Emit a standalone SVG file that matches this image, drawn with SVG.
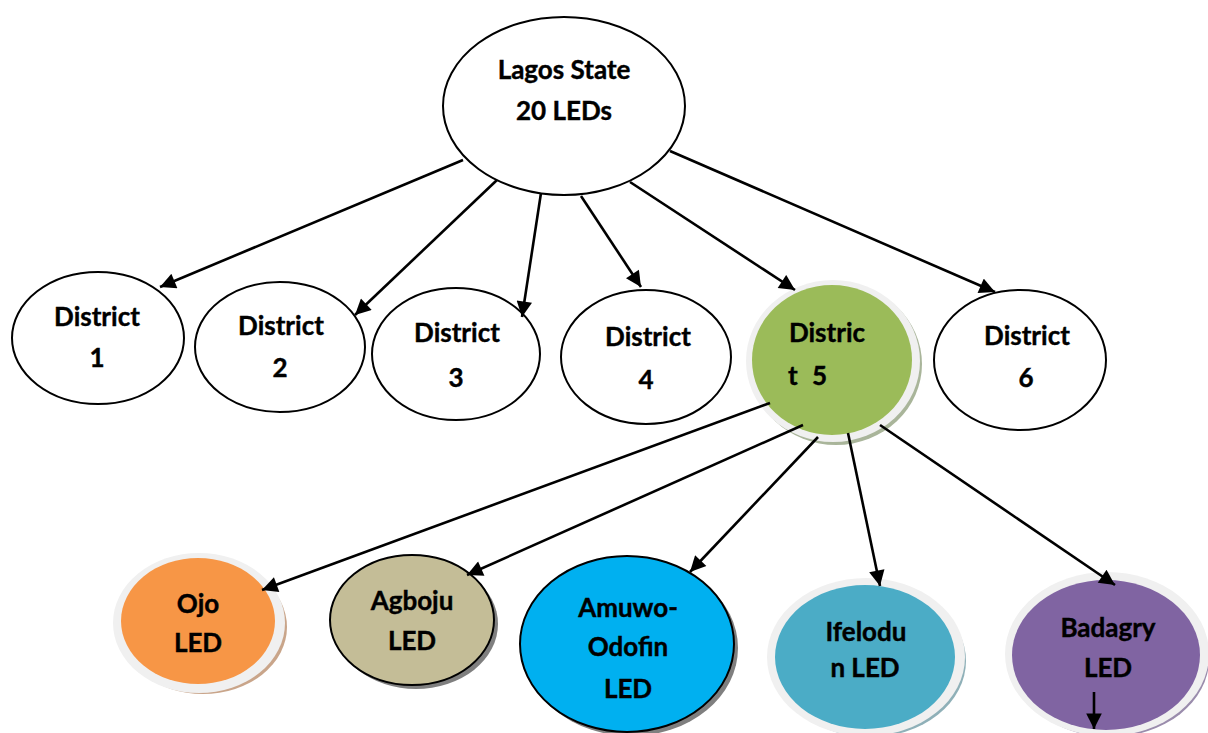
<svg xmlns="http://www.w3.org/2000/svg" width="1208" height="733" viewBox="0 0 1208 733">
<defs>
<style>
.plain{fill:#fff;stroke:#000;stroke-width:2}
.t{font-family:Lato,"Open Sans","Liberation Sans",sans-serif;font-weight:bold;font-size:26px;fill:#000;text-anchor:middle;stroke:#000;stroke-width:0.4}
.ring{fill:#f0f0f0}
.edge{stroke:#000;stroke-width:2.6;fill:none;marker-end:url(#ah)}
</style>
<marker id="ah" viewBox="0 0 10 10" refX="10" refY="5" markerWidth="6.5" markerHeight="6" orient="auto" markerUnits="strokeWidth">
<path d="M0,0 L10,5 L0,10 z" fill="#000"/>
</marker>
</defs>
<rect width="1208" height="733" fill="#fff"/>
<g id="lagos">
<ellipse class="plain" cx="564" cy="106" rx="121" ry="89"/>
<text class="t" x="564" y="79">Lagos State</text>
<text class="t" x="564" y="120">20 LEDs</text>
</g>
<g id="d1">
<ellipse class="plain" cx="98" cy="338" rx="86" ry="66"/>
<text class="t" x="97" y="326">District</text>
<text class="t" x="97" y="367">1</text>
</g>
<g id="d2">
<ellipse class="plain" cx="280" cy="347" rx="85" ry="65"/>
<text class="t" x="281" y="335">District</text>
<text class="t" x="280" y="377">2</text>
</g>
<g id="d3">
<ellipse class="plain" cx="456" cy="354" rx="84" ry="66"/>
<text class="t" x="457" y="342">District</text>
<text class="t" x="456" y="387">3</text>
</g>
<g id="d4">
<ellipse class="plain" cx="646" cy="357" rx="85" ry="67"/>
<text class="t" x="648" y="346">District</text>
<text class="t" x="646" y="389">4</text>
</g>
<g id="d5">
<ellipse cx="836" cy="364" rx="86" ry="81" fill="#a9b59a"/>
<ellipse class="ring" cx="833" cy="361" rx="87" ry="81"/>
<ellipse cx="832" cy="360" rx="80" ry="75" fill="#9bbb59"/>
<text class="t" x="827" y="342">Distric</text>
<text class="t" style="text-anchor:start" y="385"><tspan x="788">t</tspan><tspan x="812">5</tspan></text>
</g>
<g id="d6">
<ellipse class="plain" cx="1020" cy="360" rx="86" ry="70"/>
<text class="t" x="1027" y="345">District</text>
<text class="t" x="1026" y="387">6</text>
</g>
<g id="ojo">
<ellipse cx="203" cy="627" rx="84" ry="67" fill="#c9a58a"/>
<ellipse class="ring" cx="199" cy="623" rx="86" ry="70"/>
<ellipse cx="198" cy="621" rx="77" ry="63" fill="#f79646"/>
<text class="t" x="198" y="613">Ojo</text>
<text class="t" x="198" y="652">LED</text>
</g>
<g id="agboju">
<ellipse cx="416" cy="624" rx="82" ry="65" fill="#7f7f7f"/>
<ellipse cx="412" cy="620" rx="82" ry="65" fill="#c4bd97" stroke="#000" stroke-width="2"/>
<text class="t" x="412" y="610">Agboju</text>
<text class="t" x="412" y="650">LED</text>
</g>
<g id="amuwo">
<ellipse cx="631" cy="648" rx="107" ry="88" fill="#7f7f7f"/>
<ellipse cx="627" cy="644" rx="107" ry="88" fill="#00b0f0" stroke="#000" stroke-width="2"/>
<text class="t" x="628" y="617">Amuwo-</text>
<text class="t" x="628" y="656">Odofin</text>
<text class="t" x="628" y="698">LED</text>
</g>
<g id="ifelodu">
<ellipse cx="870" cy="661" rx="96" ry="76" fill="#8fb0b8"/>
<ellipse class="ring" cx="866" cy="657" rx="99" ry="79"/>
<ellipse cx="865" cy="657" rx="90" ry="72" fill="#4bacc6"/>
<text class="t" x="866" y="641">Ifelodu</text>
<text class="t" x="865" y="677">n LED</text>
</g>
<g id="badagry">
<ellipse cx="1110" cy="659" rx="99" ry="78" fill="#9a8cac"/>
<ellipse class="ring" cx="1107" cy="654" rx="102" ry="82"/>
<ellipse cx="1106" cy="655" rx="94" ry="75" fill="#8064a2"/>
<text class="t" x="1108" y="637">Badagry</text>
<text class="t" x="1108" y="677">LED</text>
</g>
<g id="connectors">
<line class="edge" x1="463" y1="160" x2="160" y2="287"/>
<line class="edge" x1="497" y1="180" x2="355" y2="315"/>
<line class="edge" x1="541" y1="193" x2="522" y2="317"/>
<line class="edge" x1="581" y1="196" x2="641" y2="287"/>
<line class="edge" x1="630" y1="182" x2="795" y2="290"/>
<line class="edge" x1="670" y1="151" x2="995" y2="292"/>
<line class="edge" x1="770" y1="403" x2="262" y2="590"/>
<line class="edge" x1="803" y1="425" x2="467" y2="575"/>
<line class="edge" x1="818" y1="437" x2="690" y2="572"/>
<line class="edge" x1="848" y1="433" x2="880" y2="586"/>
<line class="edge" x1="880" y1="425" x2="1115" y2="585"/>
<line class="edge" x1="1094" y1="692" x2="1094" y2="729"/>
</g>
</svg>
